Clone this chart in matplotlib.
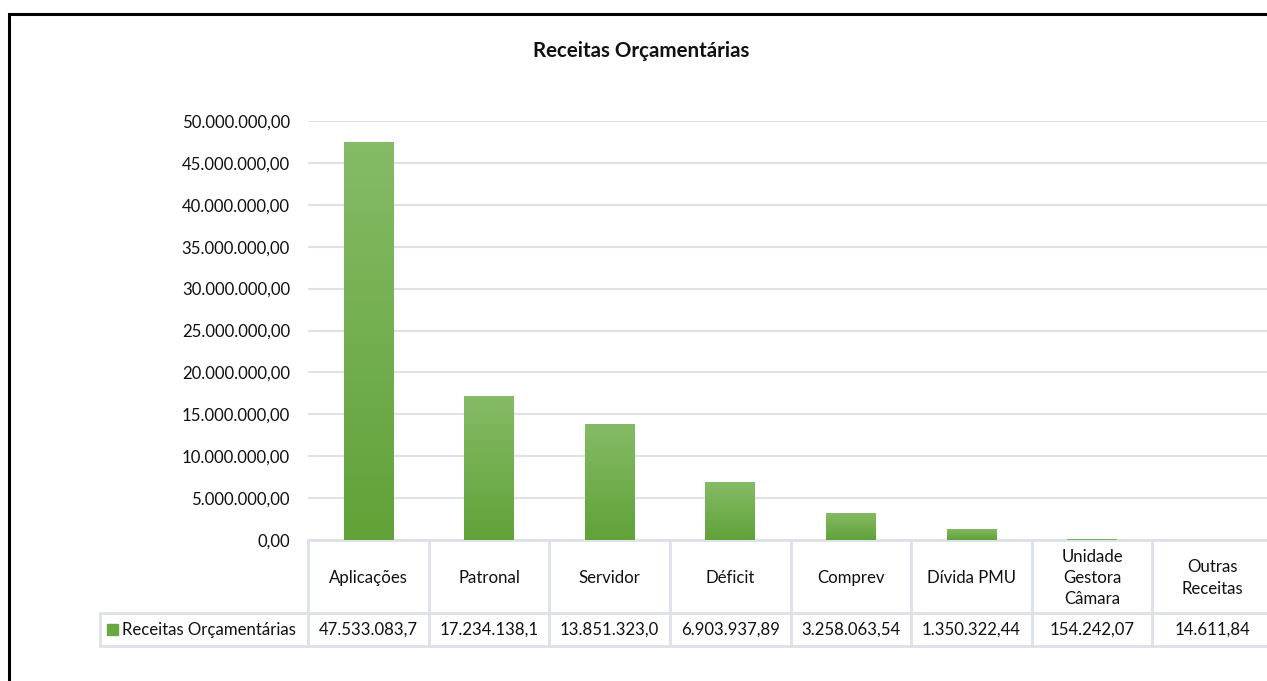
import numpy as np
import matplotlib.pyplot as plt
from matplotlib.colors import LinearSegmentedColormap
from matplotlib.patches import Rectangle
from matplotlib.ticker import FuncFormatter

# dados
categorias = ['Aplicações', 'Patronal', 'Servidor', 'Déficit', 'Comprev',
              'Dívida PMU', 'Unidade\nGestora\nCâmara', 'Outras\nReceitas']
valores = [47533083.7, 17234138.1, 13851323.0, 6903937.89, 3258063.54,
           1350322.44, 154242.07, 14611.84]
valores_txt = ['47.533.083,7', '17.234.138,1', '13.851.323,0', '6.903.937,89',
               '3.258.063,54', '1.350.322,44', '154.242,07', '14.611,84']
serie = 'Receitas Orçamentárias'
titulo = 'Receitas Orçamentárias'

plt.rcParams['font.family'] = ['Lato', 'DejaVu Sans']
cor_texto = '#111111'
cor_grade = '#dde1e8'
fs = 12.1

W, H = 1267, 681
fig = plt.figure(figsize=(W / 100, H / 100), dpi=100)

# eixo do grafico (posicoes em pixels)
left, right, top, base, tab_bot = 308, 1273, 121, 540, 646
ax = fig.add_axes([left / W, (H - base) / H, (right - left) / W, (base - top) / H])

x = np.arange(len(categorias))
barras = ax.bar(x, valores, width=0.41, color='#78b257', edgecolor='none', zorder=3)

# gradiente estilo Excel (so nas barras visiveis)
cmap = LinearSegmentedColormap.from_list('verde', ['#60a238', '#86bb66'])
grad = np.linspace(0, 1, 256).reshape(-1, 1)
for b in barras:
    if b.get_height() < 500000:
        continue
    x0, y0 = b.get_x(), b.get_y()
    im = ax.imshow(grad, cmap=cmap, origin='lower', aspect='auto',
                   extent=[x0, x0 + b.get_width(), y0, y0 + b.get_height()],
                   interpolation='bilinear', zorder=3)
    im.set_clip_path(b)

ax.set_xlim(-0.5, len(categorias) - 0.5)
ax.set_ylim(0, 50000000)
ax.set_yticks(np.arange(0, 50000001, 5000000))
ax.yaxis.set_major_formatter(FuncFormatter(
    lambda v, p: f'{v:,.2f}'.replace(',', 'X').replace('.', ',').replace('X', '.')))
ax.tick_params(axis='y', length=0, pad=13, labelsize=fs, labelcolor=cor_texto)
ax.set_xticks([])
ax.grid(axis='y', color=cor_grade, linewidth=1.5, zorder=0)
ax.set_axisbelow(True)
for s in ['left', 'right', 'top']:
    ax.spines[s].set_visible(False)
ax.spines['bottom'].set_color(cor_grade)
ax.spines['bottom'].set_linewidth(2)

ax.set_title(titulo, fontsize=14.8, fontweight='bold', color=cor_texto, pad=0,
             x=(641 - left) / (right - left), y=1 + (top - 51) / (base - top), va='center')

# tabela de dados
tab = fig.add_axes([left / W, (H - tab_bot) / H, (right - left) / W, (tab_bot - base) / H])
tab.set_xlim(-0.5, len(categorias) - 0.5)
tab.set_ylim(tab_bot - base, 0)
tab.axis('off')
larg = (right - left) / len(categorias)
x_leg = -0.5 - (left - 100) / larg
lin = dict(color=cor_grade, linewidth=2, clip_on=False)
for k in range(len(categorias) + 1):
    tab.plot([k - 0.5, k - 0.5], [0, 106], **lin)
tab.plot([x_leg, x_leg], [73, 106], **lin)
tab.plot([x_leg, len(categorias) - 0.5], [73, 73], **lin)
tab.plot([x_leg, len(categorias) - 0.5], [106, 106], **lin)

for i, (c, t) in enumerate(zip(categorias, valores_txt)):
    tab.text(i, 38, c, ha='center', va='center', fontsize=fs, color=cor_texto,
             linespacing=1.4)
    tab.text(i, 89.5, t, ha='center', va='center', fontsize=fs, color=cor_texto)

tab.add_patch(Rectangle((-0.5 - (left - 107) / larg, 84), 11 / larg, 11,
                        color='#6aa842', clip_on=False))
tab.text(-0.5 - (left - 122) / larg, 89.5, serie, ha='left', va='center',
         fontsize=fs, color=cor_texto)

# moldura
fig.add_artist(Rectangle((9 / W, -0.1), 1.2, (H - 14) / H + 0.1,
                         transform=fig.transFigure, fill=False,
                         edgecolor='black', linewidth=2.2))

fig.savefig('out.png', dpi=100)
